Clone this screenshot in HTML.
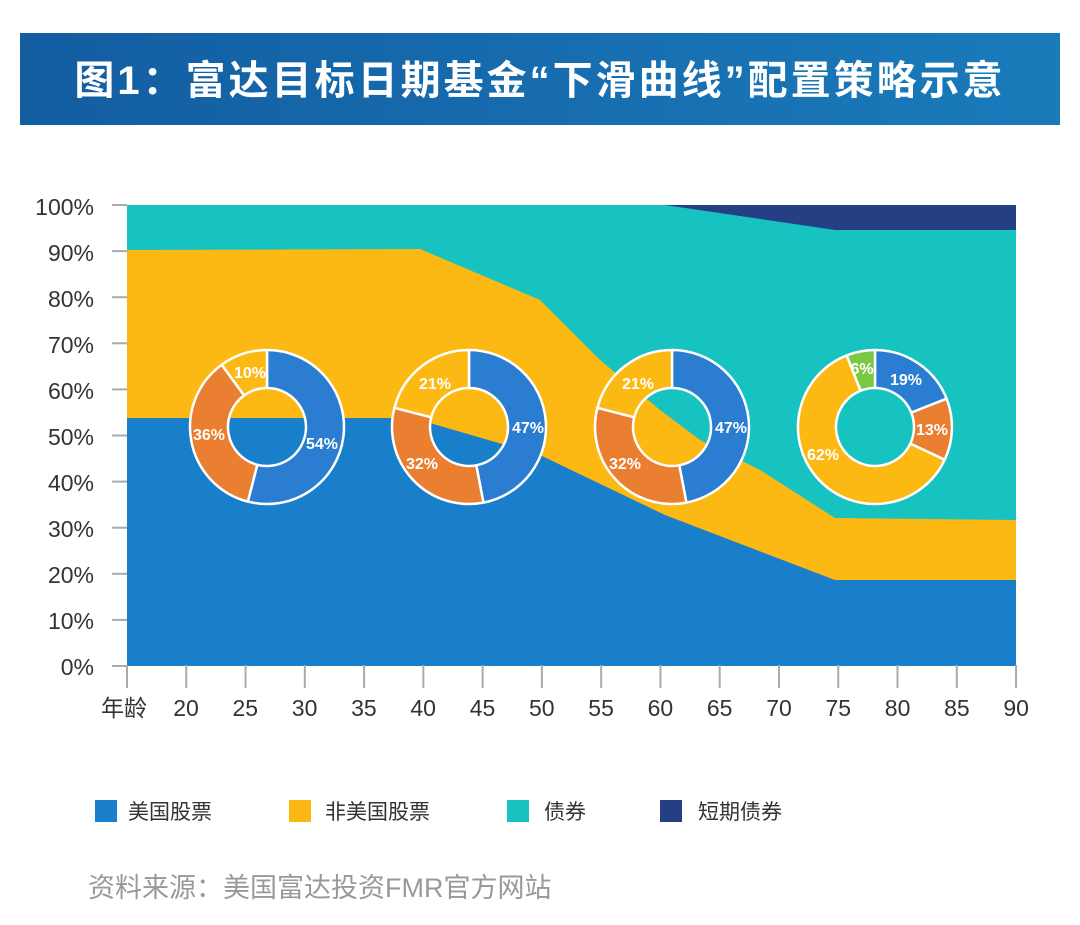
<!DOCTYPE html>
<html><head><meta charset="utf-8"><style>
body{margin:0;background:#fff;width:1080px;height:920px;overflow:hidden;font-family:"Liberation Sans","Noto Sans CJK SC",sans-serif;}
</style></head><body>
<svg id="s" width="1080" height="920" viewBox="0 0 1080 920" xmlns="http://www.w3.org/2000/svg" font-family="Liberation Sans, Noto Sans CJK SC, sans-serif">
<defs><linearGradient id="g" x1="0" x2="1"><stop offset="0" stop-color="#135da1"/><stop offset="1" stop-color="#1a7bbb"/></linearGradient></defs>
<rect x="20" y="33" width="1040" height="92" fill="url(#g)"/>
<text x="540" y="94" text-anchor="middle" fill="#fff" font-size="40" font-weight="bold" letter-spacing="3">图1：富达目标日期基金“下滑曲线”配置策略示意</text>
<rect x="127" y="205" width="889" height="461" fill="#16c3c1"/>
<polygon points="665,205 1016,205 1016,230 835,230" fill="#253f85"/>
<polygon points="127,250 420,249 540,300 600,360 660,410 700,440 760,470 835,518 1016,520 1016,666 127,666" fill="#fdb913"/>
<polygon points="127,418 400,418 423,421 540,455 665,515 835,580 1016,580 1016,666 127,666" fill="#1a7fcb"/>
<g id="donuts"></g>
<g fill="#333" font-size="23" text-anchor="end">
<text x="94" y="215">100%</text><text x="94" y="261">90%</text><text x="94" y="307">80%</text><text x="94" y="353">70%</text><text x="94" y="399">60%</text><text x="94" y="445">50%</text><text x="94" y="491">40%</text><text x="94" y="537">30%</text><text x="94" y="583">20%</text><text x="94" y="629">10%</text><text x="94" y="675">0%</text>
</g>
<g id="ticks" stroke="#aaa" stroke-width="2"></g>
<g id="xl" fill="#333" font-size="23" text-anchor="middle"></g>
<g font-size="21" fill="#333">
<rect x="95" y="800" width="22" height="22" fill="#1a7fcb"/><text x="128" y="819">美国股票</text>
<rect x="289" y="800" width="22" height="22" fill="#fdb913"/><text x="325" y="819">非美国股票</text>
<rect x="507" y="800" width="22" height="22" fill="#16c3c1"/><text x="544" y="819">债券</text>
<rect x="660" y="800" width="22" height="22" fill="#253f85"/><text x="698" y="819">短期债券</text>
</g>
<text x="88" y="897" font-size="27" fill="#999">资料来源：美国富达投资FMR官方网站</text>
</svg>
<script>
var NS="http://www.w3.org/2000/svg";
function el(t,a,p){var e=document.createElementNS(NS,t);for(var k in a)e.setAttribute(k,a[k]);p.appendChild(e);return e;}
var tk=document.getElementById('ticks'),xl=document.getElementById('xl');
for(var i=0;i<=15;i++){var x=127+i*59.27;el('line',{x1:x,y1:665,x2:x,y2:688},tk);}
for(var i=0;i<=10;i++){var y=205+i*46.1;el('line',{x1:112,y1:y,x2:127,y2:y},tk);}
var t=el('text',{x:124,y:716},xl);t.textContent='年龄';
for(var a=20;a<=90;a+=5){var t=el('text',{x:186+(a-20)*11.86,y:716},xl);t.textContent=a;}
var D=document.getElementById('donuts');
var C={b:'#2a7dd0',o:'#eb7f31',y:'#fdb913',g:'#7ac943'};
var donuts=[
 {cx:267,segs:[[54,'b'],[36,'o'],[10,'y']],lab:[['54%',322,449],['36%',209,440],['10%',250,378]]},
 {cx:469,segs:[[47,'b'],[32,'o'],[21,'y']],lab:[['47%',528,433],['32%',422,469],['21%',435,389]]},
 {cx:672,segs:[[47,'b'],[32,'o'],[21,'y']],lab:[['47%',731,433],['32%',625,469],['21%',638,389]]},
 {cx:875,segs:[[19,'b'],[13,'o'],[62,'y'],[6,'g']],lab:[['19%',906,385],['13%',932,435],['62%',823,460],['6%',862,374]]}];
var cy=427,R=77,r=39;
donuts.forEach(function(d){
 var s=0;
 d.segs.forEach(function(sg){
  var a0=s/100*2*Math.PI,a1=(s+sg[0])/100*2*Math.PI;s+=sg[0];
  function p(rad,a){return [d.cx+rad*Math.sin(a),cy-rad*Math.cos(a)];}
  var A=p(R,a0),B=p(R,a1),Cc=p(r,a1),Dd=p(r,a0),lg=(a1-a0)>Math.PI?1:0;
  el('path',{d:'M'+A+' A'+R+' '+R+' 0 '+lg+' 1 '+B+' L'+Cc+' A'+r+' '+r+' 0 '+lg+' 0 '+Dd+' Z',fill:C[sg[1]],stroke:'#fff','stroke-width':2.5,'stroke-linejoin':'round'},D);
 });
 d.lab.forEach(function(l){var t=el('text',{x:l[1],y:l[2],'text-anchor':'middle','font-size':16,'font-weight':'bold',fill:'#fff'},D);t.textContent=l[0];});
});
</script>
</body></html>
